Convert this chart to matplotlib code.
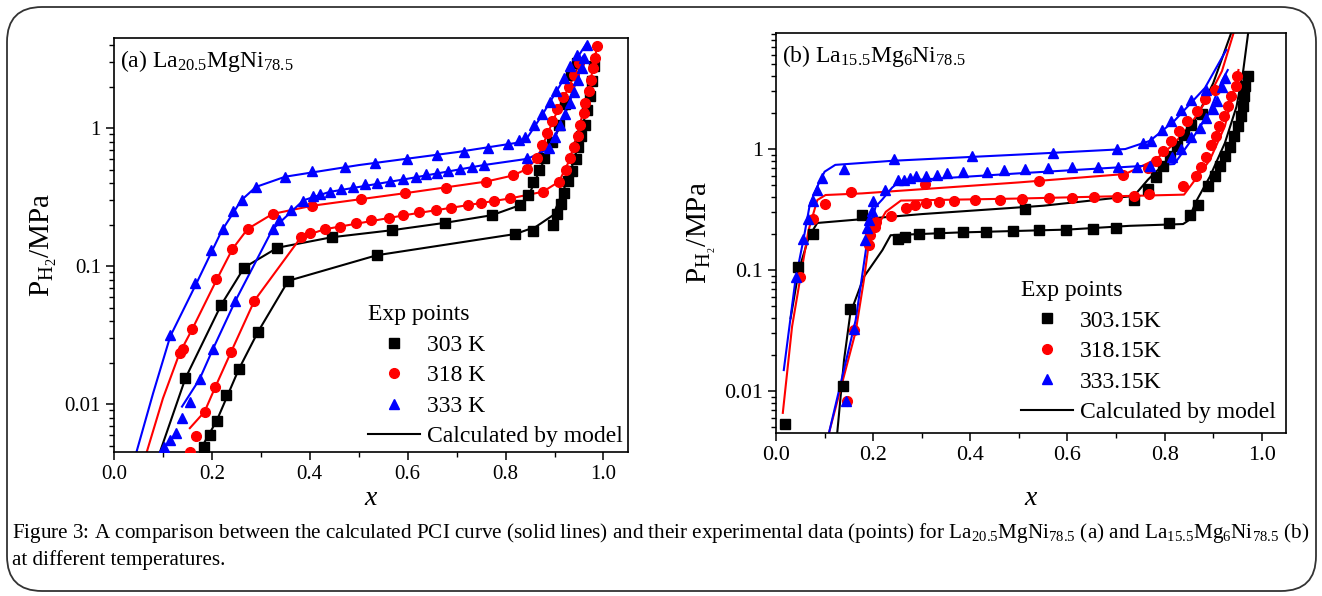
import numpy as np
import matplotlib
matplotlib.use("Agg")
from matplotlib import pyplot as plt
from matplotlib.lines import Line2D
from matplotlib.patches import FancyBboxPatch
from matplotlib.ticker import LogLocator, FixedLocator, FuncFormatter, MultipleLocator

plt.rcParams['font.family'] = ['Liberation Serif', 'DejaVu Serif']
plt.rcParams['mathtext.fontset'] = 'custom'
plt.rcParams['mathtext.rm'] = 'Liberation Serif'
plt.rcParams['mathtext.it'] = 'Liberation Serif:italic'

# ---- panel (a): La20.5MgNi78.5, experimental points ----
a_x_303_up = [0.146, 0.219, 0.266, 0.334, 0.445, 0.567, 0.676, 0.772, 0.830, 0.846, 0.856, 0.868, 0.878, 0.895, 0.910, 0.922, 0.934, 0.946]
a_p_303_up = [0.0154, 0.0524, 0.0977, 0.136, 0.162, 0.182, 0.206, 0.234, 0.278, 0.329, 0.41, 0.499, 0.612, 0.80, 1.05, 1.5, 2.43, 2.95]
a_x_303_dn = [0.183, 0.197, 0.210, 0.229, 0.255, 0.294, 0.356, 0.537, 0.820, 0.856, 0.897, 0.905, 0.913, 0.920, 0.928, 0.935, 0.943, 0.948, 0.955, 0.962, 0.967, 0.972, 0.976, 0.98]
a_p_303_dn = [0.0049, 0.0060, 0.0076, 0.0116, 0.0179, 0.0333, 0.0783, 0.120, 0.171, 0.180, 0.198, 0.238, 0.282, 0.338, 0.411, 0.491, 0.600, 0.725, 0.871, 1.06, 1.35, 1.7, 2.2, 2.8]
a_x_318_up = [0.134, 0.141, 0.160, 0.209, 0.242, 0.273, 0.324, 0.405, 0.505, 0.595, 0.679, 0.759, 0.815, 0.843, 0.864, 0.875, 0.884, 0.895, 0.905, 0.918, 0.929, 0.940, 0.949]
a_p_318_up = [0.0234, 0.0251, 0.0349, 0.0805, 0.133, 0.186, 0.239, 0.274, 0.305, 0.340, 0.370, 0.409, 0.454, 0.505, 0.612, 0.757, 0.918, 1.13, 1.38, 1.67, 2.0, 2.43, 2.95]
a_x_318_dn = [0.155, 0.168, 0.185, 0.207, 0.239, 0.287, 0.382, 0.401, 0.432, 0.461, 0.494, 0.526, 0.561, 0.590, 0.623, 0.657, 0.688, 0.724, 0.750, 0.777, 0.809, 0.876, 0.909, 0.923, 0.931, 0.940, 0.947, 0.952, 0.960, 0.963, 0.970, 0.975, 0.978, 0.983, 0.987]
a_p_318_dn = [0.0045, 0.0059, 0.0088, 0.0133, 0.0238, 0.0563, 0.162, 0.175, 0.185, 0.193, 0.206, 0.216, 0.225, 0.233, 0.248, 0.255, 0.262, 0.277, 0.288, 0.298, 0.310, 0.346, 0.409, 0.497, 0.604, 0.734, 0.877, 1.05, 1.28, 1.52, 1.85, 2.24, 2.72, 3.25, 3.91]
a_x_333_up = [0.115, 0.166, 0.198, 0.223, 0.243, 0.261, 0.291, 0.350, 0.405, 0.472, 0.534, 0.599, 0.660, 0.715, 0.764, 0.805, 0.827, 0.840, 0.859, 0.874, 0.891, 0.904, 0.919, 0.932, 0.946, 0.966]
a_p_333_up = [0.0318, 0.076, 0.130, 0.185, 0.249, 0.302, 0.374, 0.446, 0.487, 0.526, 0.562, 0.597, 0.635, 0.676, 0.714, 0.77, 0.815, 0.865, 1.05, 1.26, 1.55, 1.87, 2.30, 2.80, 3.40, 4.0]
a_x_333_dn = [0.102, 0.115, 0.126, 0.138, 0.155, 0.175, 0.202, 0.248, 0.324, 0.338, 0.362, 0.387, 0.407, 0.421, 0.441, 0.463, 0.488, 0.512, 0.538, 0.564, 0.591, 0.617, 0.638, 0.660, 0.683, 0.707, 0.731, 0.755, 0.844, 0.888, 0.900, 0.912, 0.922, 0.931, 0.939, 0.948, 0.956, 0.960]
a_p_333_dn = [0.0049, 0.0055, 0.0062, 0.0080, 0.0103, 0.0152, 0.0250, 0.0563, 0.185, 0.217, 0.256, 0.299, 0.324, 0.334, 0.346, 0.360, 0.376, 0.392, 0.403, 0.416, 0.428, 0.445, 0.462, 0.475, 0.492, 0.508, 0.526, 0.541, 0.606, 0.716, 0.87, 1.06, 1.26, 1.52, 1.84, 2.24, 2.72, 3.25]

# panel (a) model curves
a_mx_303_up = [0.094, 0.146, 0.219, 0.266, 0.334, 0.445, 0.567, 0.676, 0.772, 0.83, 0.848, 0.88, 0.917, 0.94]
a_mp_303_up = [0.0045, 0.0154, 0.0524, 0.0977, 0.136, 0.162, 0.182, 0.206, 0.234, 0.277, 0.33, 0.6, 1.15, 2.0]
a_mx_303_dn = [0.185, 0.21, 0.255, 0.294, 0.356, 0.537, 0.82, 0.862, 0.897, 0.93, 0.955, 0.972]
a_mp_303_dn = [0.0053, 0.0076, 0.0179, 0.0333, 0.0783, 0.12, 0.171, 0.193, 0.234, 0.45, 0.9, 1.9]
a_mx_318_up = [0.067, 0.10, 0.134, 0.16, 0.21, 0.242, 0.273, 0.324, 0.405, 0.60, 0.76, 0.815, 0.843, 0.865, 0.90, 0.94, 0.955]
a_mp_318_up = [0.0045, 0.011, 0.0234, 0.035, 0.08, 0.133, 0.186, 0.239, 0.274, 0.34, 0.41, 0.454, 0.505, 0.61, 1.2, 2.4, 3.2]
a_mx_318_dn = [0.155, 0.185, 0.207, 0.239, 0.287, 0.382, 0.43, 0.60, 0.81, 0.876, 0.909, 0.93, 0.95, 0.97, 0.985]
a_mp_318_dn = [0.0067, 0.0088, 0.0133, 0.0238, 0.0563, 0.162, 0.185, 0.236, 0.31, 0.346, 0.409, 0.58, 1.0, 1.9, 3.6]
a_mx_333_up = [0.046, 0.08, 0.115, 0.17, 0.22, 0.26, 0.29, 0.35, 0.50, 0.70, 0.82, 0.845, 0.875, 0.92, 0.965]
a_mp_333_up = [0.0045, 0.012, 0.031, 0.077, 0.18, 0.30, 0.375, 0.445, 0.54, 0.67, 0.78, 0.86, 1.25, 2.3, 4.1]
a_mx_333_dn = [0.139, 0.175, 0.202, 0.248, 0.324, 0.387, 0.44, 0.60, 0.755, 0.845, 0.885, 0.90, 0.93, 0.958]
a_mp_333_dn = [0.0096, 0.0152, 0.025, 0.056, 0.185, 0.30, 0.345, 0.43, 0.54, 0.60, 0.70, 0.85, 1.5, 3.3]

# ---- panel (b): La15.5Mg6Ni78.5, experimental points ----
b_x_303_1 = [0.018, 0.046, 0.076, 0.177, 0.512, 0.736, 0.766, 0.782, 0.797, 0.811, 0.826, 0.840, 0.855, 0.876]
b_p_303_1 = [0.0053, 0.105, 0.198, 0.284, 0.32, 0.378, 0.47, 0.582, 0.72, 0.87, 1.06, 1.3, 1.58, 1.94]
b_x_303_2 = [0.138, 0.153, 0.251, 0.266, 0.295, 0.336, 0.384, 0.433, 0.487, 0.542, 0.598, 0.652, 0.699, 0.81, 0.852, 0.869, 0.890, 0.903, 0.914, 0.924, 0.934, 0.943, 0.951, 0.958, 0.962, 0.964, 0.965, 0.972]
b_p_303_2 = [0.011, 0.0473, 0.179, 0.189, 0.197, 0.202, 0.206, 0.208, 0.212, 0.215, 0.216, 0.219, 0.223, 0.246, 0.286, 0.347, 0.498, 0.601, 0.72, 0.869, 1.04, 1.27, 1.54, 1.88, 2.28, 2.72, 3.3, 3.99]
b_x_318_1 = [0.050, 0.076, 0.101, 0.154, 0.306, 0.542, 0.714, 0.765, 0.783, 0.797, 0.814, 0.830, 0.847, 0.866, 0.883, 0.903]
b_p_318_1 = [0.088, 0.265, 0.352, 0.44, 0.515, 0.548, 0.614, 0.70, 0.80, 0.957, 1.16, 1.4, 1.69, 2.05, 2.57, 3.06]
b_x_318_2 = [0.146, 0.160, 0.192, 0.194, 0.203, 0.205, 0.236, 0.268, 0.287, 0.308, 0.336, 0.367, 0.41, 0.461, 0.506, 0.563, 0.609, 0.654, 0.702, 0.737, 0.768, 0.838, 0.864, 0.874, 0.885, 0.895, 0.905, 0.912, 0.922, 0.930, 0.937, 0.946, 0.949]
b_p_318_2 = [0.0083, 0.032, 0.161, 0.195, 0.225, 0.248, 0.279, 0.324, 0.345, 0.36, 0.367, 0.375, 0.38, 0.38, 0.387, 0.395, 0.395, 0.40, 0.40, 0.412, 0.426, 0.497, 0.60, 0.716, 0.865, 1.07, 1.29, 1.56, 1.88, 2.28, 2.75, 3.33, 4.04]
b_x_333_1 = [0.041, 0.055, 0.065, 0.076, 0.085, 0.094, 0.139, 0.242, 0.404, 0.570, 0.701, 0.755, 0.771, 0.795, 0.813, 0.834, 0.855, 0.885]
b_p_333_1 = [0.088, 0.181, 0.265, 0.375, 0.459, 0.573, 0.684, 0.828, 0.881, 0.927, 1.0, 1.12, 1.17, 1.43, 1.70, 2.09, 2.56, 3.05]
b_x_333_2 = [0.144, 0.161, 0.183, 0.188, 0.192, 0.198, 0.199, 0.225, 0.251, 0.264, 0.276, 0.289, 0.309, 0.332, 0.353, 0.385, 0.435, 0.47, 0.513, 0.559, 0.609, 0.662, 0.705, 0.744, 0.77, 0.815, 0.834, 0.854, 0.872, 0.886, 0.90, 0.908, 0.918, 0.925]
b_p_333_2 = [0.0083, 0.0323, 0.177, 0.221, 0.258, 0.31, 0.374, 0.458, 0.555, 0.56, 0.58, 0.595, 0.603, 0.614, 0.63, 0.642, 0.65, 0.671, 0.684, 0.693, 0.706, 0.706, 0.715, 0.715, 0.729, 0.854, 1.0, 1.25, 1.49, 1.8, 2.14, 2.5, 3.26, 3.9]

# panel (b) model curves
b_mx_303_1 = [0.03, 0.047, 0.068, 0.085, 0.30, 0.55, 0.737, 0.766, 0.797, 0.831, 0.866, 0.90, 0.937]
b_mp_303_1 = [0.04, 0.10, 0.19, 0.245, 0.29, 0.34, 0.41, 0.56, 0.74, 1.12, 1.83, 3.5, 9.1]
b_mx_303_2 = [0.126, 0.140, 0.153, 0.181, 0.219, 0.236, 0.37, 0.60, 0.728, 0.838, 0.848, 0.865, 0.893, 0.924, 0.948, 0.962, 0.972]
b_mp_303_2 = [0.0045, 0.018, 0.0439, 0.088, 0.146, 0.194, 0.204, 0.216, 0.232, 0.24, 0.255, 0.37, 0.59, 1.12, 2.24, 4.5, 9.1]
b_mx_318_1 = [0.014, 0.033, 0.054, 0.067, 0.085, 0.102, 0.177, 0.50, 0.719, 0.748, 0.783, 0.819, 0.854, 0.89, 0.918, 0.942]
b_mp_318_1 = [0.0066, 0.034, 0.107, 0.214, 0.379, 0.417, 0.43, 0.53, 0.622, 0.706, 0.827, 1.1, 1.61, 2.67, 4.4, 9.1]
b_mx_318_2 = [0.109, 0.164, 0.181, 0.192, 0.226, 0.257, 0.50, 0.84, 0.893, 0.924, 0.941, 0.952]
b_mp_318_2 = [0.0045, 0.031, 0.083, 0.177, 0.303, 0.375, 0.39, 0.42, 0.81, 1.54, 2.9, 4.5]
b_mx_333_1 = [0.016, 0.040, 0.057, 0.070, 0.088, 0.10, 0.122, 0.24, 0.50, 0.719, 0.77, 0.82, 0.883, 0.927]
b_mp_333_1 = [0.0149, 0.083, 0.183, 0.356, 0.52, 0.65, 0.74, 0.80, 0.90, 1.0, 1.17, 1.71, 3.2, 6.6]
b_mx_333_2 = [0.109, 0.164, 0.188, 0.205, 0.219, 0.239, 0.256, 0.50, 0.82, 0.854, 0.89, 0.918, 0.93]
b_mp_333_2 = [0.0045, 0.0386, 0.177, 0.334, 0.384, 0.48, 0.545, 0.63, 0.752, 1.17, 1.94, 3.66, 4.5]

a_labels = ["303 K", "318 K", "333 K"]
b_labels = ["303.15K", "318.15K", "333.15K"]
colors = ["black", "red", "blue"]
markers = ["s", "o", "^"]


def style_axes(ax, ymax, ticksize):
    ax.set_yscale('log')
    ax.set_xlim(0, 1.05)
    ax.set_ylim(0.0045, ymax)
    ax.xaxis.set_major_locator(FixedLocator([0.0, 0.2, 0.4, 0.6, 0.8, 1.0]))
    ax.xaxis.set_minor_locator(MultipleLocator(0.1))
    ax.xaxis.set_major_formatter(FuncFormatter(lambda v, p: "%.1f" % v))
    ax.yaxis.set_major_locator(FixedLocator([0.01, 0.1, 1]))
    ax.yaxis.set_minor_locator(LogLocator(base=10, subs=np.arange(2, 10)))
    ax.yaxis.set_major_formatter(FuncFormatter(lambda v, p: "%g" % v))
    ax.yaxis.set_minor_formatter(FuncFormatter(lambda v, p: ""))
    ax.tick_params(which='major', direction='out', length=6, width=1.1, labelsize=ticksize)
    ax.tick_params(which='minor', direction='out', length=3.5, width=1.0)
    for s in ax.spines.values():
        s.set_linewidth(1.2)


def draw_panel(ax, pts, lines, labels, legpad):
    for (xs, ps), c, m in zip(pts, colors * 2, markers * 2):
        ax.plot(xs, ps, ls='none', marker=m, color=c, ms=7, zorder=3)
    for (xs, ps), c in zip(lines, colors * 2):
        ax.plot(xs, ps, '-', color=c, lw=1.5, zorder=2)
    handles = [Line2D([], [], ls='none', marker=m, color=c, ms=7) for m, c in zip(markers, colors)]
    handles.append(Line2D([], [], color='black', lw=1.5))
    ax.legend(handles, labels + ["Calculated by model"], loc='lower right',
              title="Exp points", alignment='left', frameon=False, fontsize=17,
              title_fontsize=17, handlelength=2.2, handletextpad=0.3,
              labelspacing=0.38, borderaxespad=legpad, borderpad=0.1)


fig = plt.figure(figsize=(13.22, 5.96), dpi=100)

ax1 = fig.add_axes([0.0862, 0.2416, 0.3888, 0.6946])
draw_panel(ax1,
           [(a_x_303_up, a_p_303_up), (a_x_318_up, a_p_318_up), (a_x_333_up, a_p_333_up),
            (a_x_303_dn, a_p_303_dn), (a_x_318_dn, a_p_318_dn), (a_x_333_dn, a_p_333_dn)],
           [(a_mx_303_up, a_mp_303_up), (a_mx_318_up, a_mp_318_up), (a_mx_333_up, a_mp_333_up),
            (a_mx_303_dn, a_mp_303_dn), (a_mx_318_dn, a_mp_318_dn), (a_mx_333_dn, a_mp_333_dn)],
           a_labels, 0.1)
style_axes(ax1, 4.5, 15)
ax1.text(0.012, 0.975, r"(a) La$_{20.5}$MgNi$_{78.5}$", transform=ax1.transAxes,
         fontsize=17, va='top', ha='left')
ax1.set_ylabel(r"P$_{\mathregular{H_2}}$/MPa", fontsize=21, labelpad=4)
ax1.set_xlabel("x", fontsize=20, fontstyle='italic', labelpad=1)

ax2 = fig.add_axes([0.587, 0.2735, 0.3858, 0.6711])
draw_panel(ax2,
           [(b_x_303_1, b_p_303_1), (b_x_318_1, b_p_318_1), (b_x_333_1, b_p_333_1),
            (b_x_303_2, b_p_303_2), (b_x_318_2, b_p_318_2), (b_x_333_2, b_p_333_2)],
           [(b_mx_303_1, b_mp_303_1), (b_mx_318_1, b_mp_318_1), (b_mx_333_1, b_mp_333_1),
            (b_mx_303_2, b_mp_303_2), (b_mx_318_2, b_mp_318_2), (b_mx_333_2, b_mp_333_2)],
           b_labels, 0.32)
style_axes(ax2, 9.1, 16)
ax2.text(0.012, 0.975, r"(b) La$_{15.5}$Mg$_6$Ni$_{78.5}$", transform=ax2.transAxes,
         fontsize=17, va='top', ha='left')
ax2.set_ylabel(r"P$_{\mathregular{H_{_2}}}$/MPa", fontsize=21, labelpad=4)
ax2.set_xlabel("x", fontsize=20, fontstyle='italic', labelpad=15)

# caption
fig.text(0.009, 1 - 533 / 596,
         r"Figure 3: A comparison between the calculated PCI curve (solid lines) and their experimental data (points) for "
         r"La$_{20.5}$MgNi$_{78.5}$ (a) and La$_{15.5}$Mg$_6$Ni$_{78.5}$ (b)",
         fontsize=15.2, va='center', ha='left')
fig.text(0.009, 1 - 560 / 596, "at different temperatures.", fontsize=15.2, va='center', ha='left')

# rounded frame
box = FancyBboxPatch((0.07, 0.05), 13.09, 5.84, boxstyle="round,pad=0,rounding_size=0.35",
                     transform=fig.dpi_scale_trans, fill=False, edgecolor='#333333', lw=1.3)
fig.patches.append(box)

plt.savefig("out.png", dpi=100)
